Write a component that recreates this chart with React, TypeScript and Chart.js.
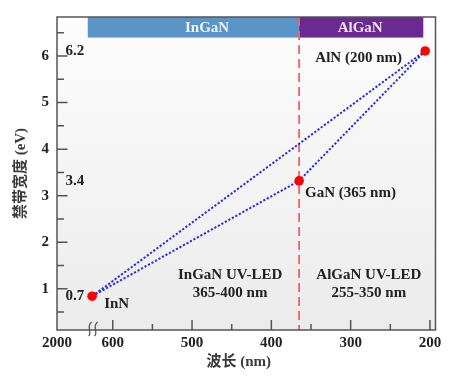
import React, { useEffect, useRef } from 'react';
import { Chart, registerables } from 'chart.js';

Chart.register(...registerables);

// ---------- data ----------
const materials = ['InN', 'GaN', 'AlN'];
const wavelengthPos = [626, 365, 206]; // nm, as placed on the axis
const bandgapPos = [0.84, 3.32, 6.11]; // eV, as placed on the axis
const bandgapLabels = ['0.7', '3.4', '6.2'];
const pointLabels = ['InN', 'GaN (365 nm)', 'AlN (200 nm)'];
const directPath = [0, 2];
const viaGaNPath = [0, 1, 2];

const xMajorTicks = [600, 500, 400, 300, 200];
const xMinorTicks = [550, 450, 350, 250];
const xBreakLabel = '2000';
const yMajorTicks = [1, 2, 3, 4, 5, 6];
const yMinorTicks = [0.5, 1.5, 2.5, 3.5, 4.5, 5.5, 6.5];

const regionNames = ['InGaN', 'AlGaN'];
const regionStart = [631.5, 365];
const regionEnd = [365, 208.4];
const regionLed = ['InGaN UV-LED', 'AlGaN UV-LED'];
const regionRange = ['365-400 nm', '255-350 nm'];
const boundaryWavelength = 365;

// ---------- layout / style ----------
const X_MIN = 193.0;
const X_MAX = 670.3;
const Y_MIN = 0.114;
const Y_MAX = 6.839;
const BANNER_BOTTOM = 6.397;
const bannerTextX = [481, 288];
const ledLabelX = [452, 277];
const ledLabelY = 1.297;
const rangeLabelY = 0.915;
const regionColors = ['#5b94c6', '#6a2a92'];
const bannerTextColors = ['#eef3f9', '#ece4f3'];
const pointLabelOffsets: [number, number, CanvasTextAlign][] = [
  [12, 7.6, 'left'],
  [6, 12.4, 'left'],
  [-66.5, 7.3, 'center'],
];
const FONT_FAMILY = "'Liberation Serif', 'Noto Sans CJK SC', serif";
const TEXT_FONT = `bold 15px ${FONT_FAMILY}`;

const decorPlugin = {
  id: 'decor',
  beforeDatasetsDraw(chart: any) {
    const { ctx, chartArea: a, scales } = chart;
    const x = scales.x;
    const y = scales.y;
    ctx.save();
    const g = ctx.createLinearGradient(0, a.top, 0, a.bottom);
    g.addColorStop(0, '#fdfdfd');
    g.addColorStop(1, '#ebebeb');
    ctx.fillStyle = g;
    ctx.fillRect(a.left, a.top, a.right - a.left, a.bottom - a.top);

    // banners
    const yTop = y.getPixelForValue(Y_MAX);
    const yBot = y.getPixelForValue(BANNER_BOTTOM);
    regionNames.forEach((name, i) => {
      const x0 = x.getPixelForValue(regionStart[i]);
      const x1 = x.getPixelForValue(regionEnd[i]);
      ctx.fillStyle = regionColors[i];
      ctx.fillRect(x0, yTop, x1 - x0, yBot - yTop);
      ctx.fillStyle = bannerTextColors[i];
      ctx.font = TEXT_FONT;
      ctx.textAlign = 'center';
      ctx.textBaseline = 'middle';
      ctx.fillText(name, x.getPixelForValue(bannerTextX[i]), (yTop + yBot) / 2 + 0.5);
    });

    // boundary dashed line
    const bx = x.getPixelForValue(boundaryWavelength);
    ctx.strokeStyle = '#ff5c5c';
    ctx.lineWidth = 1.8;
    ctx.setLineDash([9, 5]);
    ctx.beginPath();
    ctx.moveTo(bx, a.top);
    ctx.lineTo(bx, a.bottom);
    ctx.stroke();
    ctx.setLineDash([]);

    // region texts
    ctx.fillStyle = '#222';
    ctx.font = TEXT_FONT;
    ctx.textAlign = 'center';
    ctx.textBaseline = 'middle';
    regionLed.forEach((t, i) => {
      ctx.fillText(t, x.getPixelForValue(ledLabelX[i]), y.getPixelForValue(ledLabelY));
      ctx.fillText(regionRange[i], x.getPixelForValue(ledLabelX[i]), y.getPixelForValue(rangeLabelY));
    });

    // point labels and value labels
    materials.forEach((m, i) => {
      const px = x.getPixelForValue(wavelengthPos[i]);
      const py = y.getPixelForValue(bandgapPos[i]);
      const [dx, dy, al] = pointLabelOffsets[i];
      ctx.textAlign = al;
      ctx.fillText(pointLabels[i], px + dx, py + dy);
      ctx.textAlign = 'left';
      ctx.fillText(bandgapLabels[i], a.left + 8.5, py + (i === 2 ? 0.6 : 0));
    });
    ctx.restore();
  },
  afterDatasetsDraw(chart: any) {
    const { ctx, chartArea: a, scales } = chart;
    const x = scales.x;
    const y = scales.y;
    ctx.save();
    ctx.strokeStyle = '#555';
    ctx.lineWidth = 1.5;
    // tick marks (inward)
    ctx.beginPath();
    xMajorTicks.forEach((v) => {
      const px = x.getPixelForValue(v);
      ctx.moveTo(px, a.bottom);
      ctx.lineTo(px, a.bottom - 10);
    });
    xMinorTicks.forEach((v) => {
      const px = x.getPixelForValue(v);
      ctx.moveTo(px, a.bottom);
      ctx.lineTo(px, a.bottom - 6);
    });
    yMajorTicks.forEach((v) => {
      const py = y.getPixelForValue(v);
      ctx.moveTo(a.left, py);
      ctx.lineTo(a.left + 10.5, py);
    });
    yMinorTicks.forEach((v) => {
      const py = y.getPixelForValue(v);
      ctx.moveTo(a.left, py);
      ctx.lineTo(a.left + 7, py);
    });
    ctx.stroke();
    // frame
    ctx.strokeRect(a.left, a.top, a.right - a.left, a.bottom - a.top);
    // axis break symbol
    const cx = x.getPixelForValue(wavelengthPos[0]);
    ctx.lineWidth = 1.3;
    [cx - 2.5, cx + 3.5].forEach((c) => {
      ctx.beginPath();
      ctx.moveTo(c + 2, a.bottom - 8);
      ctx.bezierCurveTo(c - 4, a.bottom - 4, c + 3, a.bottom + 3, c - 1, a.bottom + 6);
      ctx.stroke();
    });
    ctx.restore();
  },
};

export default function App() {
  const canvasRef = useRef<HTMLCanvasElement | null>(null);

  useEffect(() => {
    if (!canvasRef.current) return;
    const pts = materials.map((_, i) => ({ x: wavelengthPos[i], y: bandgapPos[i] }));
    const lineStyle = {
      showLine: true,
      borderColor: '#2a2ae2',
      borderWidth: 2,
      borderDash: [2.2, 1.8],
      pointRadius: 0,
      fill: false,
      tension: 0,
    };
    const chart = new Chart(canvasRef.current, {
      type: 'scatter',
      data: {
        datasets: [
          {
            label: 'materials',
            data: pts,
            showLine: false,
            pointRadius: 4.8,
            pointBackgroundColor: '#ff0000',
            pointBorderColor: '#ff0000',
            pointBorderWidth: 0,
          },
          { label: 'InN-AlN', data: directPath.map((i) => pts[i]), ...lineStyle },
          { label: 'InN-GaN-AlN', data: viaGaNPath.map((i) => pts[i]), ...lineStyle },
        ],
      } as any,
      options: {
        animation: false,
        responsive: false,
        events: [],
        layout: { padding: { left: 0, right: 26.5, top: 13.5, bottom: 0 } },
        plugins: { legend: { display: false }, tooltip: { enabled: false } },
        scales: {
          x: {
            type: 'linear',
            reverse: true,
            min: X_MIN,
            max: X_MAX,
            grid: { display: false, drawTicks: false, tickLength: 0 },
            border: { display: false },
            afterFit: (s: any) => {
              s.height = 58;
            },
            afterBuildTicks: (s: any) => {
              s.ticks = [{ value: X_MAX }, ...xMajorTicks.map((v) => ({ value: v }))];
            },
            ticks: {
              autoSkip: false,
              maxRotation: 0,
              padding: 4,
              color: '#222',
              font: { family: FONT_FAMILY, size: 15, weight: 'bold' },
              callback: (v: any) => (v === X_MAX ? xBreakLabel : String(v)),
            },
            title: {
              display: true,
              text: '波长 (nm)\u00a0\u00a0\u00a0\u00a0',
              color: '#3a3a3a',
              font: { family: FONT_FAMILY, size: 15, weight: 'bold' },
              padding: { top: 0, bottom: 17 },
            },
          },
          y: {
            type: 'linear',
            min: Y_MIN,
            max: Y_MAX,
            grid: { display: false, drawTicks: false, tickLength: 0 },
            border: { display: false },
            afterFit: (s: any) => {
              s.width = 57;
            },
            afterBuildTicks: (s: any) => {
              s.ticks = yMajorTicks.map((v) => ({ value: v }));
            },
            ticks: {
              padding: 8,
              color: '#222',
              font: { family: FONT_FAMILY, size: 15, weight: 'bold' },
              callback: (v: any) => String(v),
            },
            title: {
              display: true,
              text: '禁带宽度 (eV)',
              color: '#3a3a3a',
              font: { family: FONT_FAMILY, size: 15, weight: 'bold' },
              padding: { top: 12, bottom: 0 },
            },
          },
        },
      } as any,
      plugins: [decorPlugin],
    });
    return () => chart.destroy();
  }, []);

  return (
    <div style={{ position: 'fixed', left: 0, top: 0, width: 462, height: 388, background: '#fff' }}>
      <canvas ref={canvasRef} width={462} height={388} style={{ display: 'block' }} />
    </div>
  );
}
